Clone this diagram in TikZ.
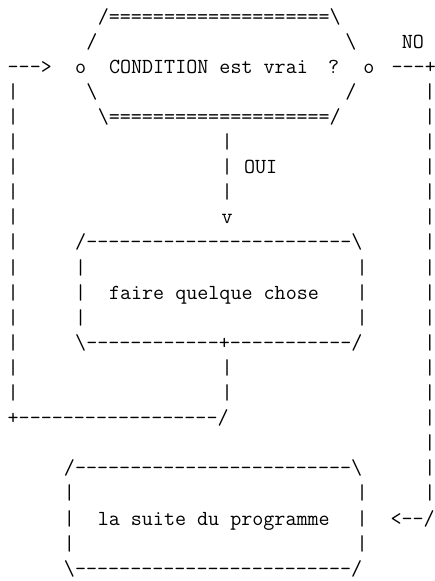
\documentclass[tikz,border=0pt]{standalone}
\usepackage{fontspec}
\setmonofont{Latin Modern Mono}
\tikzset{
  asciitxt/.style={anchor=base west, inner sep=0pt, outer sep=0pt,
    font=\fontsize{21.45pt}{25pt}\selectfont\ttfamily}
}
\newcommand\bs{\textbackslash}
% \asc{name}{column}{line}{text}
\newcommand\asc[4]{\node[asciitxt] (#1) at ({7.67pt+(#2)*11.26pt},{-23pt-((#3)-1)*25.1pt}) {#4};}
\begin{document}
\begin{tikzpicture}
\useasboundingbox (0,0) rectangle (435pt,-581pt);
% line 1
\asc{l1a}{8}{1}{/====================\bs}
% line 2
\asc{l2a}{7}{2}{/}
\asc{l2b}{30}{2}{\bs}
\asc{no}{35}{2}{NO}
% line 3
\asc{l3a}{0}{3}{--->}
\asc{l3b}{6}{3}{o}
\asc{cond}{9}{3}{CONDITION est vrai}
\asc{qm}{28.45}{3}{?}
\asc{l3c}{31.6}{3}{o}
\asc{l3d}{34.1}{3}{---+}
% line 4
\asc{l4a}{0}{4}{|}
\asc{l4b}{7}{4}{\bs}
\asc{l4c}{30}{4}{/}
\asc{l4d}{37}{4}{|}
% line 5
\asc{l5a}{0}{5}{|}
\asc{l5b}{8}{5}{\bs====================/}
\asc{l5c}{37}{5}{|}
% lines 6-9
\asc{l6a}{0}{6}{|}\asc{l6b}{19}{6}{|}\asc{l6c}{37}{6}{|}
\asc{l7a}{0}{7}{|}\asc{l7b}{19}{7}{|}\asc{oui}{21}{7}{OUI}\asc{l7c}{37}{7}{|}
\asc{l8a}{0}{8}{|}\asc{l8b}{19}{8}{|}\asc{l8c}{37}{8}{|}
\asc{l9a}{0}{9}{|}\asc{l9b}{19}{9}{v}\asc{l9c}{37}{9}{|}
% box 1
\asc{l10a}{0}{10}{|}\asc{l10b}{6}{10}{/------------------------\bs}\asc{l10c}{37}{10}{|}
\asc{l11a}{0}{11}{|}\asc{l11b}{6}{11}{|}\asc{l11c}{31}{11}{|}\asc{l11d}{37}{11}{|}
\asc{l12a}{0}{12}{|}\asc{l12b}{6}{12}{|}\asc{faire}{9}{12}{faire quelque chose}\asc{l12c}{31}{12}{|}\asc{l12d}{37}{12}{|}
\asc{l13a}{0}{13}{|}\asc{l13b}{6}{13}{|}\asc{l13c}{31}{13}{|}\asc{l13d}{37}{13}{|}
\asc{l14a}{0}{14}{|}\asc{l14b}{6}{14}{\bs------------+-----------/}\asc{l14c}{37}{14}{|}
% return loop
\asc{l15a}{0}{15}{|}\asc{l15b}{19}{15}{|}\asc{l15c}{37}{15}{|}
\asc{l16a}{0}{16}{|}\asc{l16b}{19}{16}{|}\asc{l16c}{37}{16}{|}
\asc{l17a}{0}{17}{+------------------/}\asc{l17b}{37}{17}{|}
\asc{l18a}{37}{18}{|}
% box 2
\asc{l19a}{5}{19}{/-------------------------\bs}\asc{l19b}{37}{19}{|}
\asc{l20a}{5}{20}{|}\asc{l20b}{31}{20}{|}\asc{l20c}{37}{20}{|}
\asc{l21a}{5}{21}{|}\asc{suite}{8}{21}{la suite du programme}\asc{l21b}{31}{21}{|}\asc{l21c}{34}{21}{<--/}
\asc{l22a}{5}{22}{|}\asc{l22b}{31}{22}{|}
\asc{l23a}{5}{23}{\bs-------------------------/}
\end{tikzpicture}
\end{document}
